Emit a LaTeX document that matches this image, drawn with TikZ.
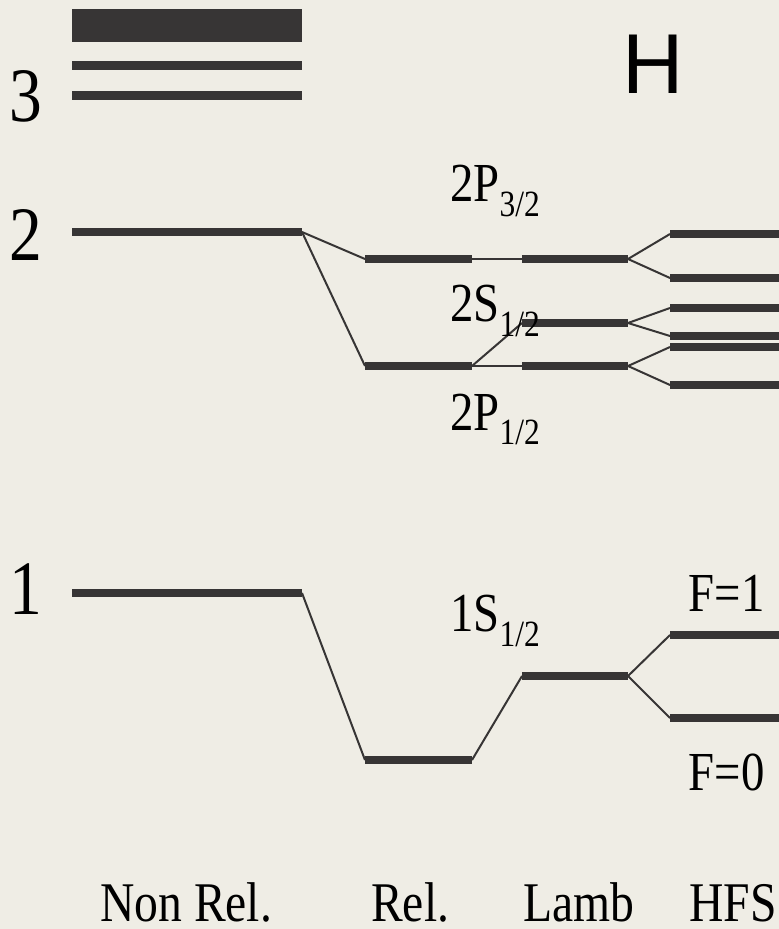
\documentclass[tikz,border=0pt]{standalone}
\usepackage{fontspec}
\setmainfont{Liberation Serif}[FakeStretch=0.85]
\newfontfamily\hfont{Liberation Sans}
\definecolor{bg}{HTML}{EFEDE5}
\definecolor{ink}{HTML}{373535}
\newcommand\lvlfont{\fontsize{77}{80}\selectfont}
\newcommand\labfont{\fontsize{55}{60}\selectfont}
\newcommand\axfont{\fontsize{56}{60}\selectfont}
\newcommand\subfont{\fontsize{37}{40}\selectfont}
\newcommand\lsub[1]{\raisebox{-14.5pt}{\subfont #1}}
\begin{document}
\begin{tikzpicture}[x=1pt,y=-1pt,
  lvl/.style={draw=ink,line width=8.5pt},
  conn/.style={draw=ink,line width=2pt},
  thin/.style={draw=ink,line width=1.6pt},
  lbl/.style={inner sep=0pt,anchor=base west,text=black}]
\fill[bg] (0,0) rectangle (779,929);
\useasboundingbox (0,0) rectangle (779,929);

% ---- coordinates: Non Rel. column
\coordinate (nrTopA) at (72,9);
\coordinate (nrTopB) at (302,42);
\coordinate (nr3aW) at (72,65.5);  \coordinate (nr3aE) at (302,65.5);
\coordinate (nr3bW) at (72,95.5);  \coordinate (nr3bE) at (302,95.5);
\coordinate (nr2W) at (72,232);    \coordinate (nr2E) at (302,232);
\coordinate (nr1W) at (72,593);    \coordinate (nr1E) at (302,593);
% ---- Rel. column
\coordinate (rPtW) at (365,259);   \coordinate (rPtE) at (472,259);
\coordinate (rPhW) at (365,366);   \coordinate (rPhE) at (472,366);
\coordinate (rSW) at (365,760);    \coordinate (rSE) at (472,760);
% ---- Lamb column
\coordinate (lPtW) at (522,259);   \coordinate (lPtE) at (628,259);
\coordinate (lStW) at (522,323);   \coordinate (lStE) at (628,323);
\coordinate (lPhW) at (522,366);   \coordinate (lPhE) at (628,366);
\coordinate (lSW) at (522,676);    \coordinate (lSE) at (628,676);
% ---- HFS column
\foreach \n/\y in {h1/234,h2/278,h3/308,h4/336,h5/347,h6/385,h7/635,h8/718}{
  \coordinate (\n W) at (670,\y); \coordinate (\n E) at (779,\y);
}

% ---- levels
\fill[ink] (nrTopA) rectangle (nrTopB);
\foreach \a in {nr3a,nr3b,nr2,nr1,rPt,rPh,rS,lPt,lSt,lPh,lS,h1,h2,h3,h4,h5,h6,h7,h8}{
  \draw[lvl] (\a W) -- (\a E);
}

% ---- connectors
\draw[conn] (nr2E) -- (rPtW);
\draw[conn] (nr2E) -- (rPhW);
\draw[thin] (rPtE) -- (lPtW);
\draw[conn] (rPhE) -- (lStW);
\draw[thin] (rPhE) -- (lPhW);
\draw[conn] (lPtE) -- (h1W);
\draw[conn] (lPtE) -- (h2W);
\draw[conn] (lStE) -- (h3W);
\draw[conn] (lStE) -- (h4W);
\draw[conn] (lPhE) -- (h5W);
\draw[conn] (lPhE) -- (h6W);
\draw[conn] (nr1E) -- (rSW);
\draw[conn] (rSE) -- (lSW);
\draw[conn] (lSE) -- (h7W);
\draw[conn] (lSE) -- (h8W);

% ---- labels
\node[lbl,font=\lvlfont] (n3) at (9,121) {3};
\node[lbl,font=\lvlfont] (n2) at (9,260) {2};
\node[lbl,font=\lvlfont] (n1) at (9,614) {1};
\node[lbl,font=\hfont\fontsize{85}{90}\selectfont] (hl) at (622,93) {H};

\node[lbl,font=\labfont] (p32) at (450,201.7) {2P\lsub{3/2}};
\node[lbl,font=\labfont] (s12) at (450,321.7) {2S\lsub{1/2}};
\node[lbl,font=\labfont] (p12) at (450,430) {2P\lsub{1/2}};
\node[lbl,font=\labfont] (s1) at (450,631.7) {1S\lsub{1/2}};
\node[lbl,font=\labfont] (f1) at (688.5,611.7) {F=1};
\node[lbl,font=\labfont] (f0) at (688.5,790) {F=0};

\node[lbl,font=\axfont] (cnr) at (100,921.7) {Non Rel.};
\node[lbl,font=\axfont] (crel) at (371,921.7) {Rel.};
\node[lbl,font=\axfont] (clamb) at (523.5,921.7) {Lamb};
\node[lbl,font=\axfont] (chfs) at (689,921.7) {HFS};
\end{tikzpicture}
\end{document}
